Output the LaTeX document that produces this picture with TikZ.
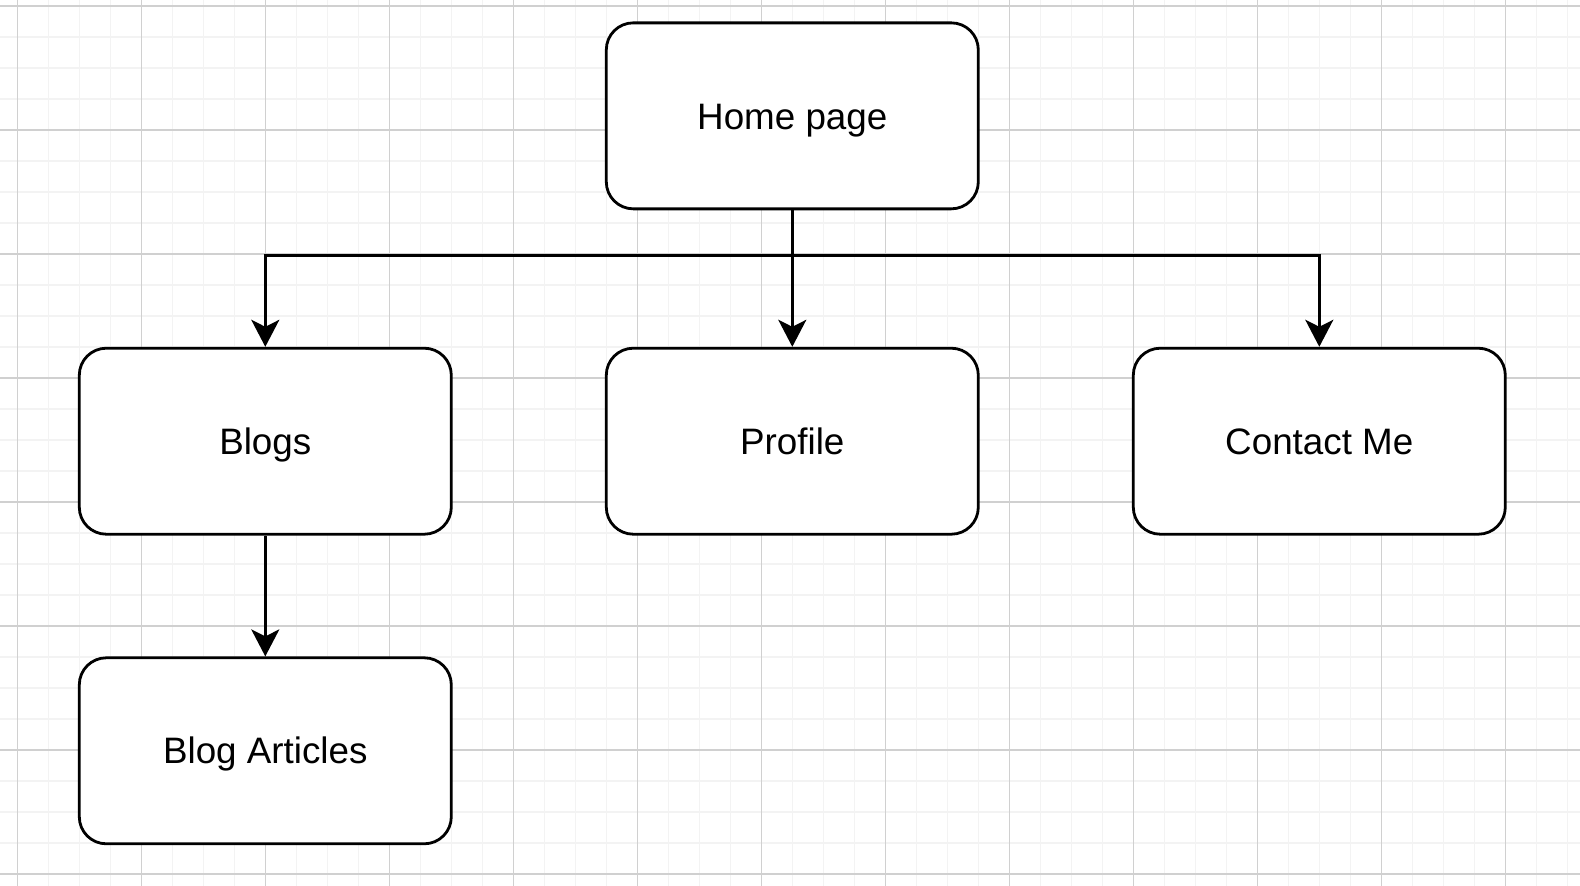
\documentclass[tikz,border=0pt]{standalone}
\usepackage{fontspec}
\setmainfont{Liberation Sans}
\usetikzlibrary{arrows.meta}
\definecolor{gridminor}{HTML}{F3F3F3}
\definecolor{gridmajor}{HTML}{D0D0D0}
\tikzset{
  pagebox/.style={draw=black, line width=2.8pt, fill=white, rounded corners=27pt,
    minimum width=372pt, minimum height=186pt, inner sep=0pt,
    text height=26.3pt, text depth=0pt,
    font=\fontsize{36.8}{44}\selectfont},
  conn/.style={draw=black, line width=2.7pt,
    -{Stealth[length=27pt, width=28pt, inset=7pt]}},
  minorline/.style={gridminor, line width=1.6pt},
  majorline/.style={gridmajor, line width=1.3pt}
}
\begin{document}
\begin{tikzpicture}[x=1pt,y=-1pt]
\useasboundingbox (0,0) rectangle (1580,886);
\fill[white] (0,0) rectangle (1580,886);
% minor grid
\foreach \i in {0,...,51} {
  \draw[minorline] ({17.3+31*\i},0) -- ({17.3+31*\i},886);
}
\foreach \j in {0,...,28} {
  \draw[minorline] (0,{6+31*\j}) -- (1580,{6+31*\j});
}
% major grid
\foreach \i in {0,...,12} {
  \draw[majorline] ({17.3+124*\i},0) -- ({17.3+124*\i},886);
}
\foreach \j in {0,...,7} {
  \draw[majorline] (0,{6+124*\j}) -- (1580,{6+124*\j});
}
% nodes
\node[pagebox] (home) at (792.3,115.85) {Home page};
\node[pagebox] (blogs) at (265.3,441.2) {Blogs};
\node[pagebox] (profile) at (792.3,441.2) {Profile};
\node[pagebox] (contact) at (1319.3,441.2) {Contact Me};
\node[pagebox] (articles) at (265.3,750.8) {Blog Articles};
\coordinate (bus) at (792.3,255.5);
% connectors
\draw[conn] (home.south) -- (bus) -| (blogs.north);
\draw[conn] (home.south) -- (profile.north);
\draw[conn] (home.south) -- (bus) -| (contact.north);
\draw[conn] (blogs.south) -- (articles.north);
\end{tikzpicture}
\end{document}
